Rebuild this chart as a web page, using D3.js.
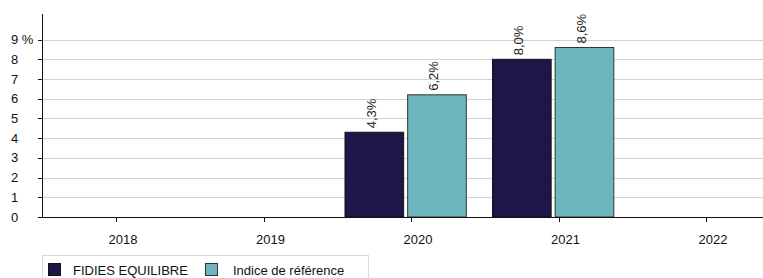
<!DOCTYPE html>
<html><head><meta charset="utf-8">
<script src="https://cdn.jsdelivr.net/npm/d3@7"></script>
<style>body{margin:0;background:#fff}svg{display:block;font-family:"Liberation Sans",Arial,sans-serif}</style>
</head><body><svg id="c" width="763" height="278"></svg>
<script>
const years = ["2018","2019","2020","2021","2022"];
const seriesNames = ["FIDIES EQUILIBRE","Indice de référence"];
const fundValues = [null, null, 4.3, 8.0, null];
const indexValues = [null, null, 6.2, 8.6, null];
const yTicks = [0,1,2,3,4,5,6,7,8,9];
const colors = ["#1f1547","#6db6bf"];

(function(){
const svg = d3.select("#c");
const W = 763, mLeft = 42, mBottom = 217, mTop = 14;
const y = d3.scaleLinear().domain([0,10.3]).range([mBottom, mTop]);
const x0 = d3.scaleBand().domain(years).range([mLeft + 0.25, mLeft + 0.25 + 147.5*years.length]);
const x1 = d3.scaleBand().domain(seriesNames).range([-66, 55.3]).paddingInner(0.064);
const cx = d => x0(d) + x0.bandwidth()/2;

// gridlines
svg.append("g").selectAll("line").data(yTicks.filter(t=>t>0)).join("line")
  .attr("x1", mLeft).attr("x2", W).attr("y1", d=>Math.round(y(d))+0.5).attr("y2", d=>Math.round(y(d))+0.5)
  .attr("stroke","#d2d2d2").attr("stroke-width",1);

// bars
const data = [];
years.forEach((yr,i)=>{
  [fundValues[i], indexValues[i]].forEach((v,j)=>{ if(v!=null) data.push({yr, s:seriesNames[j], v, j}); });
});
svg.append("g").selectAll("rect").data(data).join("rect")
  .attr("x", d=>cx(d.yr)+x1(d.s)).attr("width", x1.bandwidth())
  .attr("y", d=>y(d.v)).attr("height", d=>mBottom - y(d.v))
  .attr("fill", d=>colors[d.j]).attr("stroke", d=>d.j===0?"#111":"#333").attr("stroke-width",1);

// bar labels
svg.append("g").selectAll("text").data(data).join("text")
  .attr("transform", d=>`translate(${cx(d.yr)+x1(d.s)+x1.bandwidth()/2+1.5},${y(d.v)-4}) rotate(-90)`)
  .attr("font-size",13).attr("fill","#222")
  .text(d=>d.v.toFixed(1).replace(".",",")+"%");

// y axis
svg.append("line").attr("x1",mLeft+0.5).attr("x2",mLeft+0.5).attr("y1",mTop).attr("y2",mBottom).attr("stroke","#111");
svg.append("g").selectAll("line").data(yTicks).join("line")
  .attr("x1",mLeft-4).attr("x2",mLeft).attr("y1",d=>Math.round(y(d))+0.5).attr("y2",d=>Math.round(y(d))+0.5).attr("stroke","#111");
svg.append("g").selectAll("text").data(yTicks).join("text")
  .attr("x",11).attr("y",d=>y(d)).attr("dy","0.35em").attr("font-size",13).attr("fill","#111")
  .text(d=>d===9?"9 %":d);

// x axis
svg.append("line").attr("x1",mLeft).attr("x2",W).attr("y1",mBottom+0.5).attr("y2",mBottom+0.5).attr("stroke","#111").attr("stroke-width",1.2);
svg.append("g").selectAll("line").data(years).join("line")
  .attr("x1",d=>Math.round(cx(d))+0.5).attr("x2",d=>Math.round(cx(d))+0.5).attr("y1",mBottom).attr("y2",mBottom+5).attr("stroke","#111");
svg.append("g").selectAll("text").data(years).join("text")
  .attr("x",d=>cx(d)+7).attr("y",244).attr("text-anchor","middle").attr("font-size",13).attr("fill","#111")
  .text(d=>d);

// legend
svg.append("rect").attr("x",42.5).attr("y",255.5).attr("width",326).attr("height",30).attr("fill","none").attr("stroke","#d8d8d8");
const legX = [48.5, 205.5], legT = [73, 233];
seriesNames.forEach((s,i)=>{
  svg.append("rect").attr("x",legX[i]).attr("y",263.5).attr("width",12).attr("height",12)
    .attr("fill",colors[i]).attr("stroke",i===0?"#111":"#333");
  svg.append("text").attr("x",legT[i]).attr("y",275).attr("font-size",13).attr("fill","#111").text(s);
});
})();
</script></body></html>
